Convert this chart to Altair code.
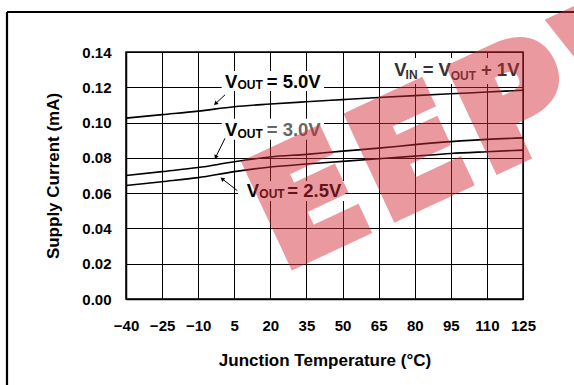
import math
import altair as alt
import pandas as pd

# Junction temperature (°C) and supply current (mA) for each output voltage
temps = [-40, -25, -10, 5, 20, 35, 50, 65, 80, 95, 110, 125]
i_5v0 = [0.1025, 0.1045, 0.1065, 0.1090, 0.1105, 0.1118, 0.1130, 0.1142, 0.1153, 0.1163, 0.1173, 0.1183]
i_3v0 = [0.0700, 0.0722, 0.0745, 0.0778, 0.0805, 0.0820, 0.0838, 0.0855, 0.0875, 0.0892, 0.0905, 0.0913]
i_2v5 = [0.0643, 0.0665, 0.0688, 0.0722, 0.0748, 0.0765, 0.0780, 0.0795, 0.0810, 0.0825, 0.0835, 0.0844]
series = ["5.0V", "3.0V", "2.5V"]
y_ticks = [0.00, 0.02, 0.04, 0.06, 0.08, 0.10, 0.12, 0.14]

# Annotation pieces: V, subscript, remainder (temperature, current, text, size, colour)
label_t = [1.15, 6.34, 18.47, 1.15, 6.34, 18.47, 10.16, 15.40, 27.04, 71.5, 76.2, 83.3, 94.94, 107.5]
label_v = [0.1198, 0.1188, 0.1198, 0.0924, 0.0914, 0.0924, 0.0580, 0.0570, 0.0580, 0.1264, 0.1247, 0.1264, 0.1242, 0.1264]
label_text = ["V", "OUT", "= 5.0V", "V", "OUT", "= 3.0V", "V", "OUT", "= 2.5V", "V", "IN", "= V", "OUT", "+ 1V"]
label_size = [18.5, 12, 18.5, 18.5, 12, 18.5, 18.5, 12, 18.5, 18.5, 12, 18.5, 12, 18.5]
label_color = ["#000", "#000", "#000", "#000", "#000", "#666", "#000", "#000", "#000",
               "#333", "#333", "#333", "#333", "#333"]

# White boxes behind the annotations
box_t1 = [-0.23, -0.23, 6.55, 70.1]
box_t2 = [42.3, 42.3, 51.0, 123.3]
box_v1 = [0.1179, 0.0902, 0.0556, 0.1219]
box_v2 = [0.1293, 0.1021, 0.0669, 0.1366]

# Leader arrows: start -> tip
arr_t1 = [1.15, 1.15, 6.26]
arr_v1 = [0.1157, 0.0911, 0.0614]
arr_t2 = [-2.60, -2.60, 0.19]
arr_v2 = [0.1110, 0.0807, 0.0679]

# Watermark letters
wm_letters = ["E", "E", "P", "W"]

W, H = 397, 247
T_MIN, T_MAX = -40, 125
V_MIN, V_MAX = 0.0, 0.14
FONT = "Liberation Sans"

rows = []
for name, vals in zip(series, [i_5v0, i_3v0, i_2v5]):
    for t, v in zip(temps, vals):
        rows.append({"t": t, "i": v, "s": name})
curves = pd.DataFrame(rows)

labels = pd.DataFrame({"t": label_t, "v": label_v, "text": label_text,
                       "size": label_size, "color": label_color})
boxes = pd.DataFrame({"t1": box_t1, "t2": box_t2, "v1": box_v1, "v2": box_v2})

sx = W / (T_MAX - T_MIN)
sy = H / (V_MAX - V_MIN)
angles = []
for a, b, c, d in zip(arr_t1, arr_v1, arr_t2, arr_v2):
    dx = (c - a) * sx
    dy = -(d - b) * sy
    angles.append(math.degrees(math.atan2(dx, -dy)) % 360)
arrows = pd.DataFrame({"t1": arr_t1, "v1": arr_v1, "t2": arr_t2, "v2": arr_v2, "ang": angles})

x_scale = alt.Scale(domain=[T_MIN, T_MAX], nice=False, zero=False)
y_scale = alt.Scale(domain=[V_MIN, V_MAX], nice=False)

x_axis = alt.Axis(values=temps, title="Junction Temperature (°C)", ticks=False,
                  labelFont=FONT, labelFontSize=15, labelFontWeight="bold", labelColor="black",
                  labelPadding=19, labelFlush=False, labelOverlap=False,
                  grid=True, gridColor="black", gridOpacity=1, gridWidth=1,
                  domainColor="black", domainWidth=1.5,
                  titleFont=FONT, titleFontSize=17, titleFontWeight="bold", titleColor="black",
                  titleY=66, titleBaseline="alphabetic")
y_axis = alt.Axis(values=y_ticks, format=".2f", title="Supply Current (mA)", ticks=False,
                  labelFont=FONT, labelFontSize=15, labelFontWeight="bold", labelColor="black",
                  labelPadding=15, labelFlush=False, labelOverlap=False,
                  grid=True, gridColor="black", gridOpacity=1, gridWidth=1,
                  domainColor="black", domainWidth=1.5,
                  titleFont=FONT, titleFontSize=17, titleFontWeight="bold", titleColor="black",
                  titleAngle=270, titleX=-68, titleY=H / 2, titleAlign="center",
                  titleBaseline="alphabetic")


def xe(field):
    return alt.X(field, type="quantitative", scale=x_scale, axis=x_axis)


def ye(field):
    return alt.Y(field, type="quantitative", scale=y_scale, axis=y_axis)


lines = alt.Chart(curves).mark_line(color="black", strokeWidth=1.6, interpolate="monotone").encode(
    x=xe("t"), y=ye("i"), detail="s:N",
)

box_layer = alt.Chart(boxes).mark_rect(fill="white").encode(
    x=xe("t1"), x2="t2:Q", y=ye("v1"), y2="v2:Q",
)

arrow_lines = alt.Chart(arrows).mark_rule(color="black", strokeWidth=1).encode(
    x=xe("t1"), x2="t2:Q", y=ye("v1"), y2="v2:Q",
)
arrow_heads = alt.Chart(arrows).mark_point(shape="triangle", filled=True, color="black",
                                           opacity=1, size=22).encode(
    x=xe("t2"), y=ye("v2"),
    angle=alt.Angle("ang:Q", scale=None),
)

text_layer = alt.Chart(labels).mark_text(font=FONT, fontWeight="bold", align="left",
                                         baseline="alphabetic").encode(
    x=xe("t"), y=ye("v"),
    text="text:N",
    size=alt.Size("size:Q", scale=None, legend=None),
    color=alt.Color("color:N", scale=None, legend=None),
)

# Outer frame of the figure
frame_left = alt.Chart(pd.DataFrame({"k": [0]})).mark_rule(color="black", strokeWidth=2.2).encode(
    x=alt.value(-119), y=alt.value(-40), y2=alt.value(H + 120))
frame_top = alt.Chart(pd.DataFrame({"k": [0]})).mark_rule(color="black", strokeWidth=2.2).encode(
    x=alt.value(-119), x2=alt.value(W + 80), y=alt.value(-40))

# Publisher watermark: letters set one by one along a tilted baseline
WM_ANGLE = 335
WM_SIZE = 150
wm_origin = (156.0, 217.0)
wm_advance = {"E": 113.0, "P": 120.0, "W": 150.0}
ux = math.cos(math.radians(360 - WM_ANGLE))
uy = -math.sin(math.radians(360 - WM_ANGLE))
wm_layers = []
s = 0.0
for ch in wm_letters:
    px = wm_origin[0] + s * ux
    py = wm_origin[1] + s * uy
    wm_layers.append(
        alt.Chart(pd.DataFrame({"w": [ch]})).mark_text(
            font="DejaVu Sans", fontWeight="bold", fontSize=WM_SIZE, align="left",
            baseline="alphabetic", angle=WM_ANGLE, color="#d42a35", stroke="#d42a35",
            strokeWidth=11, strokeJoin="miter", opacity=0.47,
        ).encode(x=alt.value(px), y=alt.value(py), text="w:N")
    )
    s += wm_advance[ch]

chart = alt.layer(
    lines, box_layer, arrow_lines, arrow_heads, text_layer, frame_left, frame_top, *wm_layers
).properties(
    width=W, height=H,
    padding={"left": 126, "top": 52, "right": 51, "bottom": 86},
    autosize=alt.AutoSizeParams(type="none"),
    background="white",
).configure_view(stroke="black", strokeWidth=1.5)

chart.save("out.html", embed_options={"renderer": "svg", "actions": False})
